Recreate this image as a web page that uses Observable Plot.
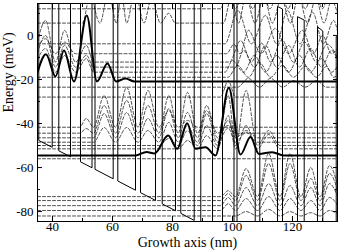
<!DOCTYPE html>
<html><head><meta charset="utf-8">
<script src="https://cdn.jsdelivr.net/npm/d3@7"></script>
<script src="https://cdn.jsdelivr.net/npm/@observablehq/plot@0.6"></script>
<style>body{margin:0;background:#fff} svg{display:block}</style>
</head><body><div id="chart"></div>
<script>
// Tick values
const xMajor = [40, 60, 80, 100, 120];
const xMinor = [50, 70, 90, 110, 130];
const yMajor = [0, -20, -40, -60, -80];
const yMinor = [10, -10, -30, -50, -70];

// Conduction band profile (growth axis nm, energy meV)
const profileX = [35, 35.43, 35.43, 39.9, 39.9, 42.1, 42.1, 46.0, 46.0, 49.33, 49.33, 53.17, 53.17, 54.17, 54.17, 60.23, 60.23, 61.77, 61.77, 67.67, 67.67, 69.33, 69.33, 74.33, 74.33, 76.57, 76.57, 81.0, 81.0, 82.77, 82.77, 87.23, 87.23, 89.43, 89.43, 93.33, 93.33, 96.67, 96.67, 100.5, 100.5, 101.5, 101.5, 107.57, 107.57, 109.1, 109.1, 115.0, 115.0, 116.67, 116.67, 121.67, 121.67, 123.9, 123.9, 128.33, 128.33, 130.1, 130.1, 134.57, 134.57, 135];
const profileE = [69.2, 68.9, -47.7, -50.8, 65.8, 64.2, -52.4, -55.1, 61.5, 59.2, -57.4, -60.1, 56.5, 55.8, -60.8, -65.1, 51.5, 50.5, -66.1, -70.3, 46.3, 45.2, -71.4, -74.9, 41.7, 40.1, -76.5, -79.6, 37.0, 35.8, -80.8, -84.0, 32.6, 31.1, -85.5, -88.2, 28.4, 26.0, -90.6, -93.3, 23.3, 22.6, -94.0, -98.2, 18.4, 17.3, -99.3, -103.4, 13.2, 12.0, -104.6, -108.1, 8.5, 7.0, -109.6, -112.7, 3.9, 2.0, -114.0, -117.1, -0.5, -0.8];

// Bold states
const boldUpper = [[35,-16.8],[37.83,-8.6],[41.0,-18.6],[43.83,-6.8],[47.17,-20.9],[51.43,9.1],[54.83,-20.9],[58.33,-12.7],[61.17,-20.9],[64.33,-19.6],[67.33,-20.9],[135,-20.9]];
const boldLower = [[35,-54.5],[67.67,-54.5],[71.33,-52.9],[74.0,-53.6],[78.57,-45.5],[81.57,-51.5],[84.9,-39.9],[87.67,-51.5],[91.0,-50.8],[94.33,-54.5],[98.77,-23.8],[102.67,-54.1],[106.0,-46.1],[108.77,-53.8],[113.23,-53.0],[117.0,-54.5],[135,-54.5]];

// Dashed states, upper group
const stA1 = [[35,12.1],[96,12.1],[98.6,22],[101,12.1],[104,21],[106.8,12.1],[109.5,22],[112.5,12.1],[115.5,22],[118.5,12.1],[121.3,21],[124.3,12.1],[127,22],[130,12.1],[132.5,21],[135,14]];
const stA2 = [[35,5.6],[50,5.6],[52.5,18],[55.8,5.6],[58.7,20],[61.3,5.6],[63,19],[64.7,5.6],[67.5,20],[70.5,5.6],[73,17],[76,5.6],[78.7,10],[81,5.6],[97,5.6],[99.5,17],[102,5.6],[104.5,18],[107.5,5.6],[110.5,18],[113.3,5.6],[116.3,17],[119.3,5.6],[122,18],[125,5.6],[127.8,17],[130.5,5.6],[133,16],[135,10]];
const stA3 = [[35,-3.8],[97.5,-3.8],[101.7,11.4],[106.3,-3.8],[111,9.1],[114.7,-3.8],[118.3,11.4],[122.5,-3.8],[126.7,10.5],[130.3,-3.8],[133.7,6.8],[135,2]];
const stA4 = [[35,-5],[37.7,-1.5],[41,-8.3],[44,-3],[47.7,-8.3],[98,-8.3],[100.5,-4],[102.5,-8.3],[105.3,2.3],[109.5,-8.3],[114.3,3.2],[118.7,-8.3],[123.3,2.3],[127,-8.3],[130,0],[133,-8.3],[135,-6]];
const stA5 = [[35,-3],[37.7,6.8],[41,-12.1],[44,2.3],[47.7,-12.1],[51.3,-4.5],[53.7,-12.1],[99,-12.1],[102.7,-2.3],[106.3,-12.1],[109.7,-3.5],[112.7,-12.1],[116.5,-2],[120.3,-12.1],[124,-3],[128,-12.1],[131.5,-4],[135,-10]];
const stA6 = [[35,-8],[37.7,0],[41,-14.4],[44,-4.5],[47.7,-14.4],[51.3,-9],[53.7,-14.4],[101,-14.4],[103.7,-6.8],[107.3,-14.4],[111,-4.5],[114.7,-14.4],[118.7,-4.5],[122.3,-14.4],[126,-5.9],[129.7,-14.4],[133,-6.8],[135,-11]];
const stA7 = [[35,-11],[37.7,-5.9],[41,-16.7],[44,-9.1],[47.7,-16.7],[51.3,-10.5],[53.7,-16.7],[97.5,-16.7],[100,-11.4],[103.7,-16.7],[107.3,-9.1],[111,-16.7],[114.7,-9.1],[118.7,-16.7],[122.3,-9.1],[126,-16.7],[129.7,-10.5],[133,-16.7],[135,-14]];
const stA8 = [[35,-19],[98.5,-19],[101.7,-13.6],[105.3,-19],[109,-12.3],[112.7,-19],[116.7,-13.6],[120.3,-19],[124.3,-14],[128,-19],[131.3,-14.1],[133.7,-19],[135,-18]];
const stA9 = [[35,-23.5],[101.7,-23.5],[105.3,-19.5],[109,-23.5],[112.7,-19.5],[116.7,-23.5],[120.3,-20.5],[124.3,-23.5],[128,-20.5],[131.3,-23.5],[135,-23.5]];
const stA10 = [[35,-28],[96,-28],[98.6,-20.5],[101,-28],[135,-28]];

// Dashed states, middle group
const stB1 = [[35,-41.7],[49,-41.7],[51.25,-37.7],[53.67,-41.7],[57.2,-27.3],[61,-41.7],[64.72,-23.6],[68.5,-41.7],[71.83,-25],[75.45,-41.7],[78.79,-34.1],[81.9,-41.7],[85,-38.6],[88.33,-41.7],[135,-41.7]];
const stB2 = [[35,-44.4],[49,-44.4],[51.25,-42.3],[53.67,-44.4],[57.2,-31.8],[61,-44.4],[64.72,-29.5],[68.5,-44.4],[71.83,-31.8],[75.45,-44.4],[78.79,-27.3],[81.9,-44.4],[85,-25.9],[88.33,-44.4],[91.38,-34.1],[95,-44.4],[98.58,-40.9],[101,-44.4],[135,-44.4]];
const stB3 = [[35,-46.5],[53.67,-46.5],[57.2,-35.5],[61,-46.5],[64.72,-35],[68.5,-46.5],[71.83,-37.7],[75.45,-46.5],[78.79,-33.2],[81.9,-46.5],[85,-35],[88.33,-46.5],[91.38,-31.8],[95,-46.5],[98.58,-38.6],[101,-46.5],[104.53,-43.2],[108.33,-46.5],[135,-46.5]];
const stB4 = [[35,-48.5],[53.67,-48.5],[57.2,-41.8],[61,-48.5],[64.72,-41.8],[68.5,-48.5],[71.83,-43.2],[75.45,-48.5],[78.79,-39.5],[81.9,-48.5],[85,-40.9],[88.33,-48.5],[91.38,-35.5],[95,-48.5],[98.58,-42],[101,-48.5],[104.53,-44],[108.33,-48.5],[135,-48.5]];
const stB5 = [[35,-50],[75.45,-50],[78.79,-46.8],[81.9,-50],[85,-43.2],[88.33,-50],[91.38,-40.9],[95,-50],[98.58,-27.3],[101,-50],[104.53,-25],[108.33,-50],[112.05,-43.2],[115.83,-50],[135,-50]];
const stB6 = [[35,-51.5],[81.9,-51.5],[85,-47.7],[88.33,-51.5],[91.38,-45.5],[95,-51.5],[98.58,-36.4],[101,-51.5],[104.53,-40.9],[108.33,-51.5],[112.05,-45],[115.83,-51.5],[135,-51.5]];
const stB7 = [[35,-56],[135,-56]];

// Dashed states, lower group
const stC1 = [[35,-73.2],[96,-73.2],[98.58,-70.5],[101,-73.2],[104.53,-60.5],[108.33,-73.2],[112.05,-53.6],[115.83,-73.2],[119.17,-53.6],[122.8,-73.2],[126.12,-60],[129.2,-73.2],[132.33,-59.1],[135,-68]];
const stC2 = [[35,-75],[96,-75],[98.58,-71.8],[101,-75],[104.53,-63.6],[108.33,-75],[112.05,-58.2],[115.83,-75],[119.17,-58.2],[122.8,-75],[126.12,-65],[129.2,-75],[132.33,-62.7],[135,-70]];
const stC3 = [[35,-77.3],[96,-77.3],[98.58,-73.6],[101,-77.3],[104.53,-69.1],[108.33,-77.3],[112.05,-67.3],[115.83,-77.3],[119.17,-68.2],[122.8,-77.3],[126.12,-69.1],[129.2,-77.3],[132.33,-67.3],[135,-73]];
const stC4 = [[35,-79.5],[96,-79.5],[98.58,-76.4],[101,-79.5],[104.53,-74.1],[108.33,-79.5],[112.05,-73.2],[115.83,-79.5],[119.17,-74.1],[122.8,-79.5],[126.12,-75],[129.2,-79.5],[132.33,-73.6],[135,-77]];
const stC5 = [[35,-82],[101,-82],[104.53,-80],[108.33,-82],[112.05,-79],[115.83,-82],[119.17,-80],[122.8,-82],[126.12,-80.5],[129.2,-82],[132.33,-79.5],[135,-81]];

const dashedStates = [stA1, stA2, stA3, stA4, stA5, stA6, stA7, stA8, stA9, stA10,
  stB1, stB2, stB3, stB4, stB5, stB6, stB7, stC1, stC2, stC3, stC4, stC5];

const profile = profileX.map((x, i) => ({x, e: profileE[i]}));
const dashed = dashedStates.flatMap((pts, k) => pts.map(([x, e]) => ({x, e, k})));
const bold = [boldUpper, boldLower].flatMap((pts, k) => pts.map(([x, e]) => ({x, e, k})));

const fmt = d => String(d);
const chart = Plot.plot({
  width: 339, height: 250,
  marginLeft: 37, marginRight: 2, marginTop: 3, marginBottom: 29,
  style: {fontFamily: "'Liberation Serif', 'Times New Roman', serif", fontSize: "13px", background: "#fff", color: "#000"},
  x: {domain: [35, 135]},
  y: {domain: [-84.5, 14.5]},
  marks: [
    Plot.line(dashed, {x: "x", y: "e", z: "k", stroke: "#222", strokeWidth: 0.8, strokeDasharray: "3,2", curve: "monotone-x", clip: true}),
    Plot.line(profile, {x: "x", y: "e", stroke: "#000", strokeWidth: 1, clip: true}),
    Plot.line(bold, {x: "x", y: "e", z: "k", stroke: "#000", strokeWidth: 2, curve: "monotone-x", clip: true}),
    Plot.frame({stroke: "#000", strokeWidth: 1}),
    Plot.axisX({ticks: xMajor, tickSize: -5, tickPadding: 5, tickFormat: fmt, label: null}),
    Plot.axisX({ticks: xMinor, tickSize: -3, fill: "none", label: null}),
    Plot.axisX({anchor: "top", ticks: xMajor, tickSize: -5, fill: "none", label: null}),
    Plot.axisX({anchor: "top", ticks: xMinor, tickSize: -3, fill: "none", label: null}),
    Plot.axisY({ticks: yMajor, tickSize: -5, tickPadding: 9, tickFormat: fmt, label: null}),
    Plot.axisY({ticks: yMinor, tickSize: -3, fill: "none", label: null}),
    Plot.axisY({anchor: "right", ticks: yMajor, tickSize: -5, fill: "none", label: null}),
    Plot.axisY({anchor: "right", ticks: yMinor, tickSize: -3, fill: "none", label: null}),
    Plot.text(["Growth axis (nm)"], {frameAnchor: "bottom", lineAnchor: "middle", dy: 21, fontSize: 14}),
    Plot.text(["Energy (meV)"], {frameAnchor: "left", lineAnchor: "middle", rotate: -90, dx: -29, fontSize: 14})
  ]
});
document.getElementById("chart").append(chart);
</script>
</body></html>
